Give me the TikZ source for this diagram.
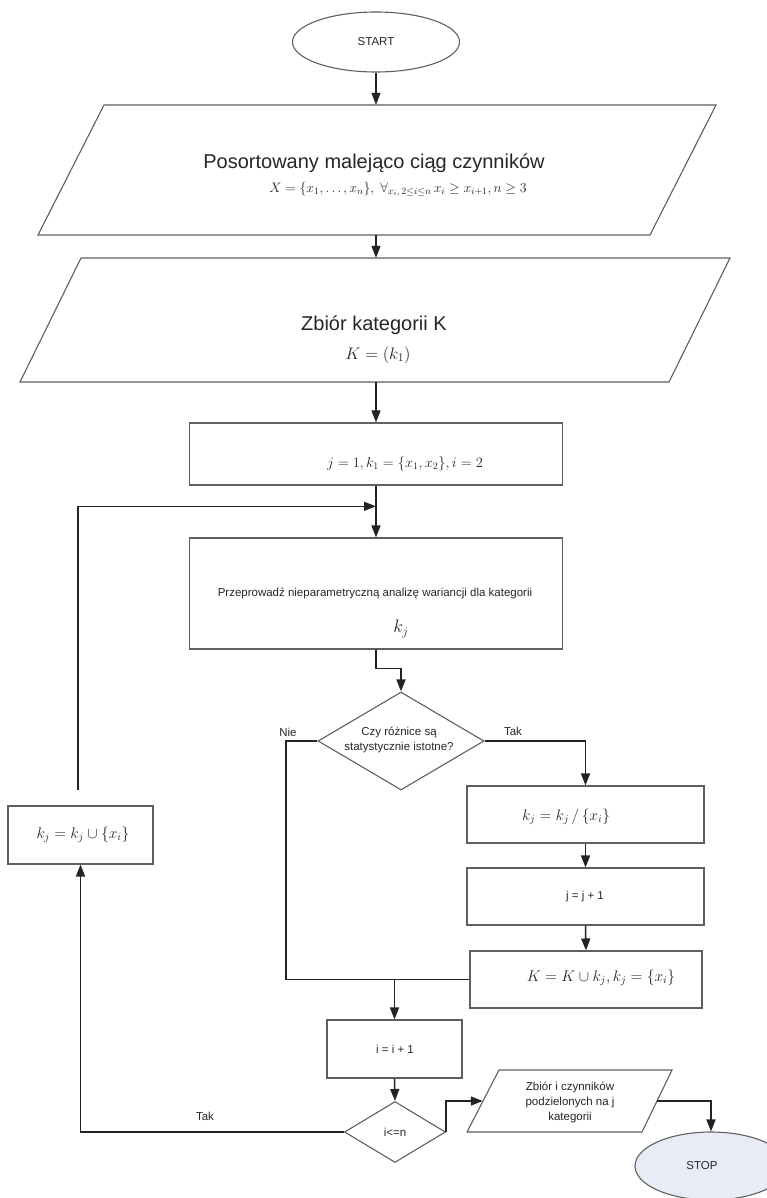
\RequirePackage{fix-cm}
\documentclass[tikz,border=0pt]{standalone}
\usepackage[no-math]{fontspec}
\setmainfont{Liberation Sans}
\usetikzlibrary{arrows.meta,shapes.geometric,calc}
\definecolor{stopfill}{RGB}{232,236,246}
\definecolor{edge}{RGB}{95,95,95}
\definecolor{wire}{RGB}{35,35,35}
\tikzset{
 shapebox/.style={draw=edge, line width=1.1pt, fill=white, inner sep=0pt},
 rbox/.style={shapebox, rectangle},
 dbox/.style={shapebox, diamond},
 ebox/.style={shapebox, ellipse},
 ghost/.style={rectangle, draw=none, inner sep=0pt},
 conn/.style={draw=wire, line width=1.5pt},
 arr/.style={conn, -{Triangle[length=12pt,width=9pt]}},
 smalltxt/.style={font=\fontsize{11.5}{15}\selectfont},
 bigtxt/.style={font=\fontsize{20}{24}\selectfont},
 lbl/.style={inner sep=0pt, text=black!85},
}
\begin{document}
\begin{tikzpicture}[x=1pt,y=-1pt]
\useasboundingbox (0,0) rectangle (766,1198);
% START
\node[ebox, minimum width=167pt, minimum height=60pt, smalltxt, text=black!85] (start) at (376,42) {START};
% input parallelogram 1
\draw[shapebox] (104,105) -- (716,105) -- (650,235) -- (38,235) -- cycle;
\node[ghost, minimum width=500pt, minimum height=130pt] (p1) at (376,170) {};
\node[lbl, bigtxt] (p1a) at (374,163) {Posortowany malejąco ciąg czynników};
\node[lbl, font=\fontsize{13.7}{16}\selectfont] (p1b) at (398,189) {$X=\{x_1,\ldots,x_n\},\ \forall_{x_i,\,2\le i\le n}\,x_i\ge x_{i+1}, n\ge 3$};
% input parallelogram 2
\draw[shapebox] (81,258) -- (730,258) -- (669,382) -- (20,382) -- cycle;
\node[ghost, minimum width=500pt, minimum height=124pt] (p2) at (376,320) {};
\node[lbl, bigtxt] (p2a) at (374,325) {Zbiór kategorii K};
\node[lbl, font=\fontsize{16.8}{19}\selectfont] (p2b) at (378,355) {$K=(k_1)$};
% init
\node[rbox, minimum width=373pt, minimum height=62pt] (r1) at (376,454) {};
\node[lbl, font=\fontsize{14.4}{17}\selectfont] (r1t) at (405,464) {$j=1, k_1=\{x_1,x_2\}, i=2$};
% analysis
\node[rbox, minimum width=373pt, minimum height=111pt] (r2) at (376,593.5) {};
\node[lbl, smalltxt] (r2a) at (375,593) {Przeprowadź nieparametryczną analizę wariancji dla kategorii};
\node[lbl, font=\fontsize{18}{20}\selectfont] (r2b) at (401,629) {$k_j$};
% decision 1
\node[dbox, minimum width=166pt, minimum height=98pt] (d1) at (401,741) {};
\node[lbl, smalltxt, align=center] (d1t) at (399,739.5) {Czy różnice są\\statystycznie istotne?};
% yes branch
\node[rbox, minimum width=237pt, minimum height=57pt] (rk) at (585.5,814.5) {};
\node[lbl, font=\fontsize{15.4}{18}\selectfont] (rkt) at (566,817) {$k_j = k_j\,/\,\{x_i\}$};
\node[rbox, minimum width=237pt, minimum height=57pt] (rj) at (585.5,896.5) {};
\node[lbl, smalltxt] (rjt) at (585,897) {j = j + 1};
\node[rbox, minimum width=232pt, minimum height=57pt] (rK) at (586,979.5) {};
\node[lbl, font=\fontsize{15.5}{18}\selectfont] (rKt) at (601,978) {$K = K\cup k_j, k_j=\{x_i\}$};
% i = i + 1
\node[rbox, minimum width=135pt, minimum height=58pt] (ri) at (394.5,1049) {};
\node[lbl, smalltxt] (rit) at (395,1049) {i = i + 1};
% decision 2
\node[dbox, minimum width=101pt, minimum height=61pt] (d2) at (395,1132) {};
\node[lbl, smalltxt] (d2t) at (395,1132) {i<=n};
% output
\draw[shapebox] (499,1070) -- (672,1070) -- (642,1132) -- (467,1132) -- cycle;
\node[ghost, minimum width=174pt, minimum height=62pt] (p3) at (570,1101) {};
\node[lbl, smalltxt, align=center] (p3t) at (570,1102) {Zbiór i czynników\\podzielonych na j\\kategorii};
% STOP
\node[ebox, fill=stopfill, minimum width=152pt, minimum height=68pt] (stop) at (711,1166) {};
\node[lbl, smalltxt] (stopt) at (702,1166) {STOP};
% left box
\node[rbox, minimum width=145pt, minimum height=58pt] (rl) at (80.5,835) {};
\node[lbl, font=\fontsize{15.5}{18}\selectfont] (rlt) at (83,835) {$k_j = k_j \cup \{x_i\}$};
% labels
\node[lbl, smalltxt] (nie) at (288,732) {Nie};
\node[lbl, smalltxt] (tak1) at (513,731) {Tak};
\node[lbl, smalltxt] (tak2) at (205,1116) {Tak};
% connectors
\draw[arr] (start.south) -- (start.south |- p1.north);
\draw[arr] (p1.south) -- (p2.north);
\draw[arr] (p2.south) -- (r1.north);
\draw[arr] (r1.south) -- (r2.north);
\coordinate (lt) at (78,790);
\draw[arr] (lt) |- ($(r1.south)!0.4!(r2.north)$);
\draw[arr] (r2.south) -- ++(0,19) -| (d1.north);
\draw[arr] (d1.east) -| (rk.north);
\draw[arr] (rk.south) -- (rj.north);
\draw[arr] (rj.south) -- (rK.north);
\coordinate (niec) at (286,741);
\draw[conn] (d1.west) -- (niec) |- (rK.west);
\draw[arr] (ri.north |- rK.west) -- (ri.north);
\draw[arr] (ri.south) -- (d2.north);
\draw[arr] (d2.west) -| (rl.south);
\draw[arr] (d2.east) -- (d2.east |- p3.west) -- (p3.west);
\draw[arr] (p3.east) -| (stop.north);
\end{tikzpicture}
\end{document}
